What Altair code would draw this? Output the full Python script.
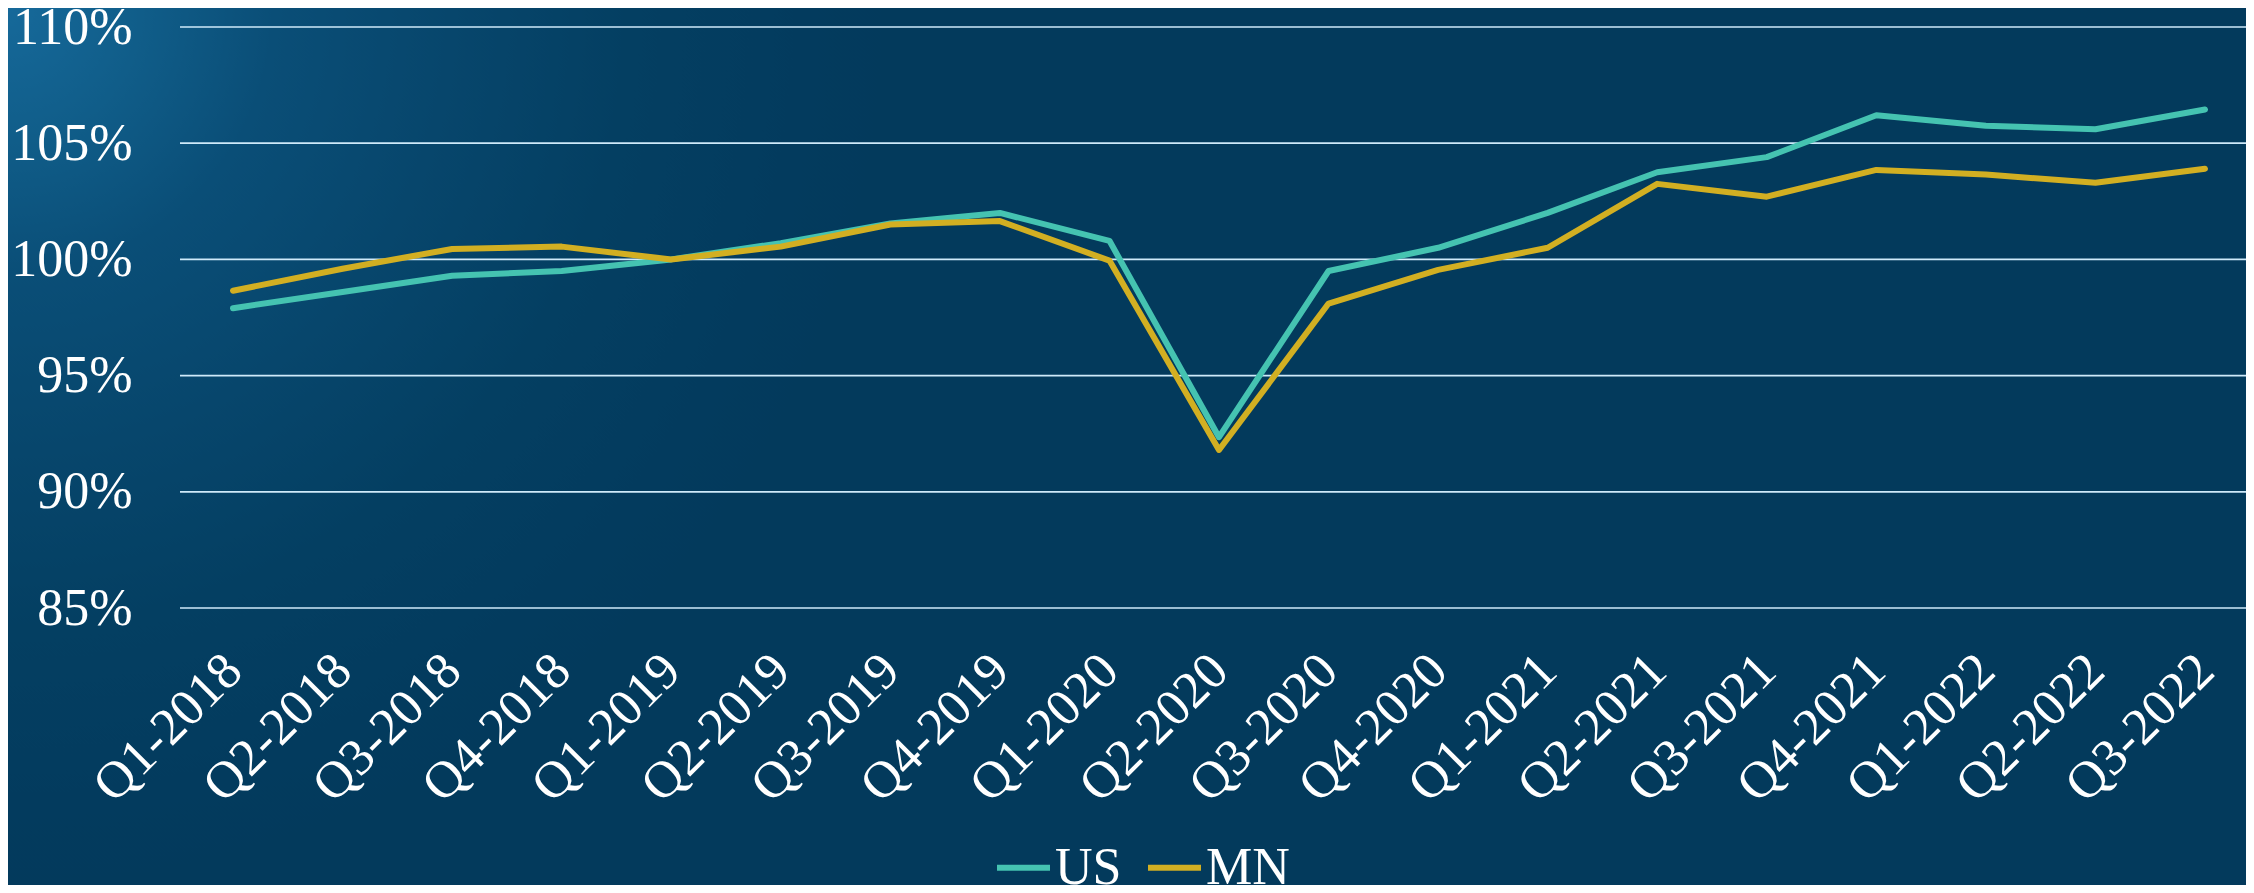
import altair as alt
import pandas as pd

quarters = ["Q1-2018", "Q2-2018", "Q3-2018", "Q4-2018",
            "Q1-2019", "Q2-2019", "Q3-2019", "Q4-2019",
            "Q1-2020", "Q2-2020", "Q3-2020", "Q4-2020",
            "Q1-2021", "Q2-2021", "Q3-2021", "Q4-2021",
            "Q1-2022", "Q2-2022", "Q3-2022"]
us = [97.9, 98.6, 99.3, 99.5, 100.0, 100.7, 101.55, 102.0, 100.8, 92.35,
      99.5, 100.5, 102.0, 103.75, 104.4, 106.2, 105.75, 105.6, 106.45]
mn = [98.65, 99.6, 100.45, 100.55, 100.0, 100.55, 101.5, 101.65, 99.95, 91.8,
      98.1, 99.55, 100.5, 103.25, 102.7, 103.85, 103.65, 103.3, 103.9]
series = ["US", "MN"]
colors = ["#45c3b1", "#d2af22"]
y_ticks = [85, 90, 95, 100, 105, 110]

rows = []
for s, vals in zip(series, [us, mn]):
    for q, v in zip(quarters, vals):
        rows.append({"quarter": q, "value": v, "series": s})
df = pd.DataFrame(rows)

W, H = 2066, 581
PL, PT = 172, 19
FONT = "Liberation Serif"
BASE = "#033a5c"
R = 1000

y_enc = alt.Y(
    "value:Q",
    scale=alt.Scale(domain=[85, 110], nice=False, zero=False),
    axis=alt.Axis(values=y_ticks, labelExpr="datum.value + '%'", domain=False,
                  ticks=False, grid=False, labelFontSize=52, labelFont=FONT,
                  labelColor="white", labelPadding=48, title=None, zindex=1),
)

glow = alt.Chart(pd.DataFrame({"a": [0]})).mark_point(
    shape="circle", filled=True, opacity=1, strokeWidth=0,
    size=3.14159 * R * R,
    fill={"gradient": "radial", "x1": 0.5, "y1": 0.5, "r1": 0,
          "x2": 0.5, "y2": 0.5, "r2": 0.5,
          "stops": [{"offset": 0, "color": "#16699a"},
                    {"offset": 0.15, "color": "#105d89"},
                    {"offset": 0.3, "color": "#0a4e77"},
                    {"offset": 0.5, "color": "#07466c"},
                    {"offset": 0.7, "color": "#043f62"},
                    {"offset": 0.9, "color": "#033b5e"},
                    {"offset": 1, "color": BASE}]}
).encode(x=alt.value(-PL), y=alt.value(-PT))

grid = alt.Chart(pd.DataFrame({"value": y_ticks})).mark_rule(
    color="#cfeafa", strokeWidth=1.7
).encode(y=y_enc, x=alt.value(0), x2=alt.value(W))

lines = alt.Chart(df).mark_line(strokeWidth=6, strokeCap="round", strokeJoin="round").encode(
    x=alt.X("quarter:O", sort=quarters,
            scale=alt.Scale(type="point", range=[53, 2025], padding=0),
            axis=alt.Axis(labelAngle=-45, labelAlign="right", labelBaseline="middle",
                          labelFontSize=52, labelFont=FONT, labelColor="white",
                          labelPadding=54, labelLimit=500, ticks=False, domain=False,
                          grid=False, labelOverlap=False, title=None, zindex=1)),
    y=y_enc,
    color=alt.Color("series:N", sort=series,
                    scale=alt.Scale(domain=series, range=colors),
                    legend=alt.Legend(orient="none", legendX=814, legendY=811,
                                      direction="horizontal", symbolType="stroke",
                                      symbolSize=2809, symbolStrokeWidth=6,
                                      labelFontSize=52, labelFont=FONT,
                                      labelColor="white", labelOffset=2,
                                      columnPadding=14, padding=0, title=None)),
)

chart = alt.layer(glow, grid, lines).properties(
    width=W, height=H,
    padding={"left": PL, "top": PT, "right": 0, "bottom": 877 - PT - H},
    autosize=alt.AutoSizeParams(type="none"),
    background=BASE,
).configure_view(stroke=None)

chart.save("out.html", embed_options={"renderer": "svg", "actions": False})
